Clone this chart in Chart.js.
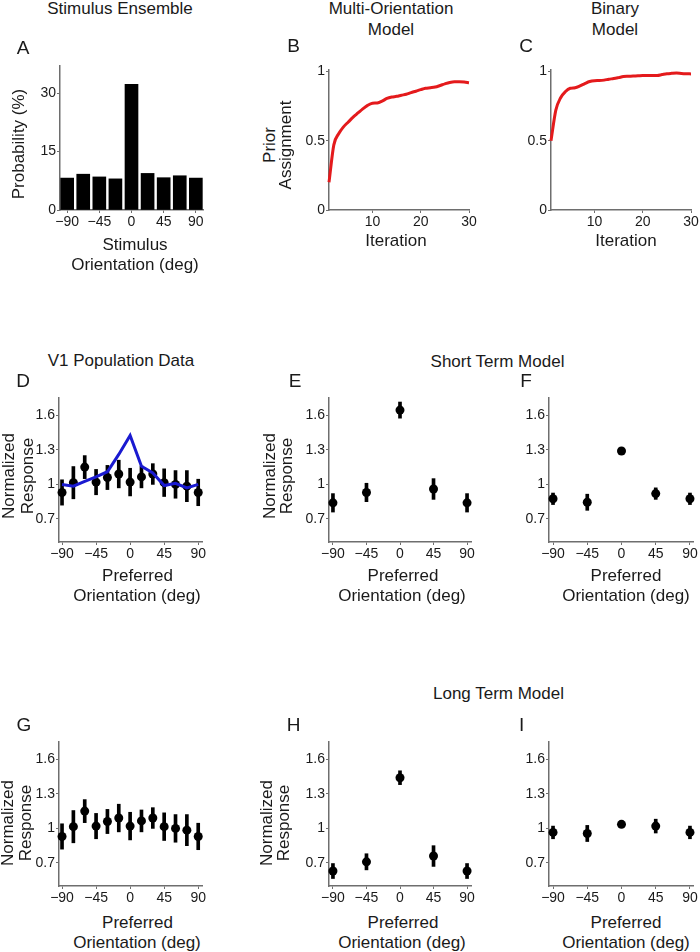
<!doctype html>
<html lang="en">
<head>
<meta charset="utf-8">
<script src="https://cdn.jsdelivr.net/npm/chart.js"></script>
<style>
  body { margin:0; width:700px; height:952px; background:#fff; position:relative; overflow:hidden;
         font-family:'Liberation Sans', Arial, sans-serif; color:#1a1a1a; }
  .lbl { position:absolute; line-height:1; white-space:nowrap; font-size:17px; transform:translate(-50%,-50%); }
  .let { font-size:19px; }
  .rot { transform:translate(-50%,-50%) rotate(-90deg); }
  canvas { position:absolute; }
</style>
</head>
<body>
<script>
/*------------- data -------------*/
// A: stimulus ensemble
var stimOri = [-90, -67.5, -45, -22.5, 0, 22.5, 45, 67.5, 90];
var stimProb = [8.2, 9.2, 8.5, 8.0, 32.3, 9.4, 8.3, 8.8, 8.2];

// B, C: prior assignment per iteration
var iters = [1, 2, 3, 4, 5, 6, 7, 8, 9, 10, 11, 12, 13, 14, 15, 16, 17, 18, 19, 20, 21, 22, 23, 24, 25, 26, 27, 28, 29, 30];
var multiPrior = [0.20, 0.47, 0.55, 0.60, 0.635, 0.67, 0.70, 0.73, 0.755, 0.77, 0.772, 0.785, 0.805, 0.815, 0.82,
                  0.828, 0.835, 0.847, 0.857, 0.868, 0.878, 0.882, 0.887, 0.898, 0.91, 0.92, 0.925, 0.925, 0.923, 0.918];
var binaryPrior = [0.50, 0.72, 0.81, 0.855, 0.878, 0.882, 0.895, 0.912, 0.927, 0.933, 0.934, 0.937, 0.944, 0.948, 0.955,
                   0.963, 0.965, 0.966, 0.968, 0.971, 0.971, 0.971, 0.971, 0.977, 0.983, 0.986, 0.988, 0.985, 0.983, 0.982];

// D, G: V1 population data
var popOri = [-90, -75, -60, -45, -30, -15, 0, 15, 30, 45, 60, 75, 90];
var popMean = [0.93, 1.015, 1.15, 1.02, 1.06, 1.09, 1.02, 1.065, 1.09, 1.015, 1.0, 0.985, 0.93];
var popErr = [0.11, 0.14, 0.10, 0.11, 0.105, 0.12, 0.12, 0.095, 0.09, 0.12, 0.12, 0.135, 0.115];
var popModel = [1.0, 0.985, 1.026, 1.066, 1.11, 1.26, 1.425, 1.158, 1.10, 0.99, 1.01, 0.97, 1.0];

// E, F, H, I: model responses
var modelOri = [-90, -45, 0, 45, 90];
var shortMultiMean = [0.84, 0.93, 1.645, 0.96, 0.84];
var shortMultiErr = [0.08, 0.08, 0.07, 0.09, 0.08];
var shortBinMean = [0.875, 0.845, 1.29, 0.92, 0.875];
var shortBinErr = [0.05, 0.07, 0.01, 0.05, 0.05];
var longMultiMean = [0.63, 0.71, 1.44, 0.76, 0.63];
var longMultiErr = [0.065, 0.07, 0.06, 0.09, 0.065];
var longBinMean = [0.965, 0.956, 1.035, 1.02, 0.965];
var longBinErr = [0.055, 0.07, 0.01, 0.06, 0.055];

// tick labels
var oriTicks = [-90, -45, 0, 45, 90];
var probTicks = [0, 15, 30];
var iterTicks = [10, 20, 30];
var priorTicks = [0, 0.5, 1];
var respTicks = [0.7, 1, 1.3, 1.6];

/*------------- common helpers -------------*/
var FONT = "'Liberation Sans', Arial, sans-serif";
var AXIS_COL = '#6e6e6e';
var PAD_T = 12, PAD_R = 14, Y_W = 46, X_H = 26;

function axis(pos, min, max, ticks) {
  return {
    type: 'linear', position: pos, min: min, max: max, offset: false,
    afterBuildTicks: function (s) { s.ticks = ticks.map(function (v) { return {value: v}; }); },
    afterFit: function (s) { if (pos === 'left') s.width = Y_W; else s.height = X_H; },
    border: {display: true, color: AXIS_COL, width: 1.5},
    grid: {display: true, drawOnChartArea: false, drawTicks: true, tickLength: 3, color: AXIS_COL, lineWidth: 1, offset: false},
    ticks: {
      font: {family: FONT, size: 14}, color: '#1a1a1a', padding: 1, maxRotation: 0, autoSkip: false,
      callback: function (v) { return String(v).replace('-', '\u2212'); }
    }
  };
}

function makeChart(box, xr, yr, xTicks, yTicks, datasets) {
  var cv = document.createElement('canvas');
  var w = box.r - box.l + Y_W + PAD_R, h = box.b - box.t + PAD_T + X_H;
  cv.width = w; cv.height = h;
  cv.style.left = (box.l - Y_W) + 'px';
  cv.style.top = (box.t - PAD_T) + 'px';
  cv.style.width = w + 'px';
  cv.style.height = h + 'px';
  document.body.appendChild(cv);
  return new Chart(cv.getContext('2d'), {
    type: 'scatter',
    data: {datasets: datasets},
    options: {
      responsive: false, animation: false, events: [],
      layout: {padding: {top: PAD_T, right: PAD_R, left: 0, bottom: 0}},
      plugins: {legend: {display: false}, tooltip: {enabled: false}},
      scales: {
        x: axis('bottom', xr[0], xr[1], xTicks),
        y: axis('left', yr[0], yr[1], yTicks)
      }
    }
  });
}

function pts(xs, ys) { return xs.map(function (x, i) { return {x: x, y: ys[i]}; }); }

// dots with vertical error bars (floating bars)
function errSets(xs, m, e) {
  return [
    {type: 'scatter', data: pts(xs, m), pointRadius: 4.5, backgroundColor: '#000', borderWidth: 0, order: 1, clip: false},
    {type: 'bar', data: xs.map(function (x, i) { return {x: x, y: [m[i] - e[i], m[i] + e[i]]}; }),
     backgroundColor: '#000', barThickness: 3, grouped: false, order: 2, clip: false}
  ];
}

/*------------- panels -------------*/
// A
makeChart({l: 60, r: 203, t: 66, b: 210}, [-100, 100], [0, 37], oriTicks, probTicks, [
  {type: 'bar', data: pts(stimOri, stimProb), backgroundColor: '#000', barThickness: 13, borderWidth: 0}
]);
// B
makeChart({l: 329, r: 469, t: 70, b: 210}, [1, 30], [0, 1.01], iterTicks, priorTicks, [
  {type: 'line', data: pts(iters, multiPrior), borderColor: '#e41a1c', borderWidth: 3, pointRadius: 0,
   cubicInterpolationMode: 'monotone', clip: false}
]);
// C
makeChart({l: 551, r: 691, t: 70, b: 210}, [1, 30], [0, 1.01], iterTicks, priorTicks, [
  {type: 'line', data: pts(iters, binaryPrior), borderColor: '#e41a1c', borderWidth: 3, pointRadius: 0,
   cubicInterpolationMode: 'monotone', clip: false}
]);
// D
makeChart({l: 59, r: 202, t: 398, b: 542}, [-94, 95], [0.5, 1.75], oriTicks, respTicks,
  [{type: 'line', data: pts(popOri, popModel), borderColor: '#1a1ad0', borderWidth: 3, pointRadius: 0, order: 0, clip: false}]
    .concat(errSets(popOri, popMean, popErr)));
// E
makeChart({l: 329, r: 471, t: 398, b: 542}, [-95.3, 95.3], [0.5, 1.75], oriTicks, respTicks,
  errSets(modelOri, shortMultiMean, shortMultiErr));
// F
makeChart({l: 549, r: 693, t: 398, b: 542}, [-95.3, 94], [0.5, 1.75], oriTicks, respTicks,
  errSets(modelOri, shortBinMean, shortBinErr));
// G
makeChart({l: 59, r: 202, t: 742, b: 886}, [-94, 95], [0.5, 1.75], oriTicks, respTicks,
  errSets(popOri, popMean, popErr));
// H
makeChart({l: 329, r: 471, t: 742, b: 886}, [-95.3, 95.3], [0.5, 1.75], oriTicks, respTicks,
  errSets(modelOri, longMultiMean, longMultiErr));
// I
makeChart({l: 549, r: 693, t: 742, b: 886}, [-95.3, 94], [0.5, 1.75], oriTicks, respTicks,
  errSets(modelOri, longBinMean, longBinErr));

/*------------- text -------------*/
var texts = [
  ['Stimulus Ensemble', 120, 7.5, ''],
  ['Multi-Orientation', 391, 7.5, ''], ['Model', 391, 29, ''],
  ['Binary', 615, 7.5, ''], ['Model', 615, 29, ''],
  ['A', 23, 46.5, 'let'], ['B', 293.5, 45, 'let'], ['C', 526, 45, 'let'],
  ['Probability (%)', 18, 143.7, 'rot'],
  ['Prior', 268.7, 145, 'rot'], ['Assignment', 285, 145, 'rot'],
  ['Stimulus', 135, 244, ''], ['Orientation (deg)', 135, 264, ''],
  ['Iteration', 396, 240, ''], ['Iteration', 626, 240, ''],

  ['V1 Population Data', 121, 360, ''], ['Short Term Model', 497.5, 360.5, ''],
  ['D', 23, 380, 'let'], ['E', 295, 380, 'let'], ['F', 526, 380, 'let'],
  ['Normalized', 8.3, 476, 'rot'], ['Response', 26.7, 476, 'rot'],
  ['Normalized', 268.8, 476, 'rot'], ['Response', 285.8, 476, 'rot'],
  ['Preferred', 137.5, 575, ''], ['Orientation (deg)', 137, 595, ''],
  ['Preferred', 403, 575, ''], ['Orientation (deg)', 402, 595, ''],
  ['Preferred', 626, 575, ''], ['Orientation (deg)', 626, 595, ''],

  ['Long Term Model', 498.5, 693, ''],
  ['G', 24, 724, 'let'], ['H', 293.5, 724, 'let'], ['I', 521.7, 724, 'let'],
  ['Normalized', 7, 822.5, 'rot'], ['Response', 25, 822.5, 'rot'],
  ['Normalized', 265.8, 822.5, 'rot'], ['Response', 283, 822.5, 'rot'],
  ['Preferred', 137.5, 922, ''], ['Orientation (deg)', 137, 942, ''],
  ['Preferred', 403, 922, ''], ['Orientation (deg)', 402, 942, ''],
  ['Preferred', 626, 922, ''], ['Orientation (deg)', 626, 942, '']
];
texts.forEach(function (t) {
  var d = document.createElement('div');
  d.className = 'lbl ' + t[3];
  d.textContent = t[0];
  d.style.left = t[1] + 'px';
  d.style.top = t[2] + 'px';
  document.body.appendChild(d);
});
</script>
</body>
</html>
